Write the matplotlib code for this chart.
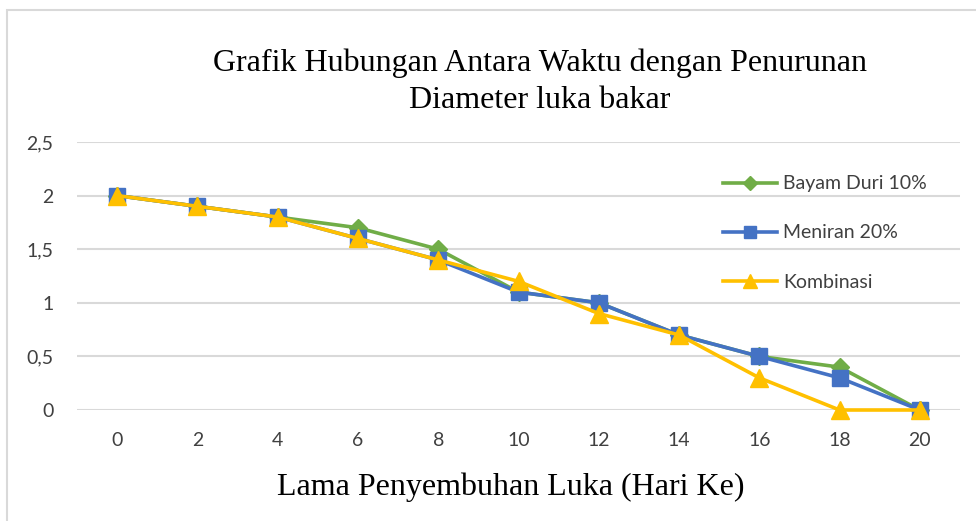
import matplotlib
matplotlib.use("Agg")
import matplotlib.pyplot as plt
from matplotlib.patches import Rectangle

days = [0, 2, 4, 6, 8, 10, 12, 14, 16, 18, 20]
bayam = [2, 1.9, 1.8, 1.7, 1.5, 1.1, 1.0, 0.7, 0.5, 0.4, 0]
meniran = [2, 1.9, 1.8, 1.6, 1.4, 1.1, 1.0, 0.7, 0.5, 0.3, 0]
kombinasi = [2, 1.9, 1.8, 1.6, 1.4, 1.2, 0.9, 0.7, 0.3, 0, 0]
yticks = [0, 0.5, 1, 1.5, 2, 2.5]
ytick_labels = ["0", "0,5", "1", "1,5", "2", "2,5"]
series_names = ["Bayam Duri 10%", "Meniran 20%", "Kombinasi"]

W, H = 976, 521
fig = plt.figure(figsize=(W / 100, H / 100), dpi=100)
fig.patches.append(Rectangle((7 / W, -0.1), 1.2, 1 - 10 / H + 0.1, transform=fig.transFigure,
                             fill=False, edgecolor="#d9d9d9", linewidth=1.5))

ax = fig.add_axes([77 / W, 1 - 410 / H, (960 - 77) / W, (410 - 142) / H])
tick_font = "Lato"
fs = 14
tc = "#404040"

ax.plot(days, bayam, color="#70AD47", lw=2.6, marker="D", ms=9, label=series_names[0], zorder=3, clip_on=False)
ax.plot(days, meniran, color="#4472C4", lw=2.6, marker="s", ms=11.5, label=series_names[1], zorder=4, clip_on=False)
ax.plot(days, kombinasi, color="#FFC000", lw=2.6, marker="^", ms=13, label=series_names[2], zorder=5, clip_on=False)

ax.set_xlim(-1, 21)
ax.set_ylim(0, 2.5)
ax.set_xticks(days)
ax.set_xticklabels([str(d) for d in days], fontfamily=tick_font, fontsize=fs, color=tc)
ax.set_yticks(yticks)
ax.set_yticklabels(ytick_labels, fontfamily=tick_font, fontsize=fs, color=tc)
ax.tick_params(axis="both", length=0)
ax.tick_params(axis="x", pad=16)
ax.tick_params(axis="y", pad=17)
for s in ax.spines.values():
    s.set_visible(False)
ax.grid(axis="y", color="#d9d9d9", lw=1.5)
ax.set_axisbelow(True)

fig.text(540 / W, 1 - 82 / H, "Grafik Hubungan Antara Waktu dengan Penurunan\nDiameter luka bakar",
         ha="center", va="center", fontfamily="Liberation Serif", fontsize=23, linespacing=1.35)
fig.text(511 / W, 1 - 487 / H, "Lama Penyembuhan Luka (Hari Ke)", ha="center", va="center",
         fontfamily="Liberation Serif", fontsize=23)

leg = fig.legend(loc="center left", bbox_to_anchor=(723 / W, 1 - 233 / H), frameon=False,
                 prop={"family": tick_font, "size": fs}, handlelength=2.8, handletextpad=0.3,
                 labelspacing=1.65, borderpad=0, borderaxespad=0, markerscale=0.75)
for t in leg.get_texts():
    t.set_color(tc)

fig.savefig("out.png", dpi=100)
